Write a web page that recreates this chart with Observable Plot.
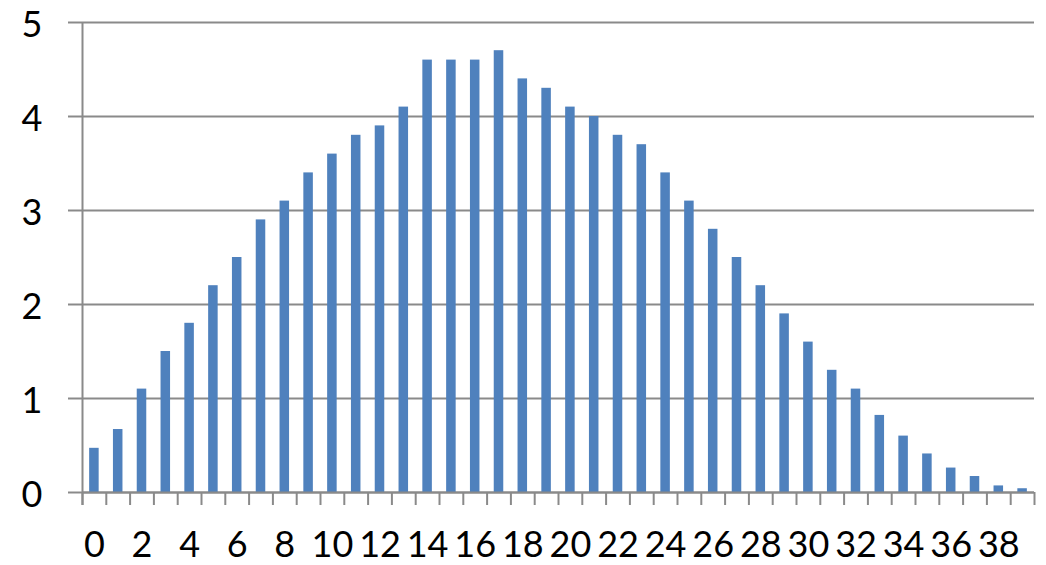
<!DOCTYPE html>
<html>
<head>
<meta charset="utf-8">
<script src="https://cdn.jsdelivr.net/npm/d3@7"></script>
<script src="https://cdn.jsdelivr.net/npm/@observablehq/plot@0.6"></script>
<style>
  html, body { margin: 0; padding: 0; background: #fff; }
  #chart { width: 1046px; height: 565px; }
</style>
</head>
<body>
<div id="chart"></div>
<script>
const categories = d3.range(0, 40);
const values = [
  0.47, 0.67, 1.1, 1.5, 1.8, 2.2, 2.5, 2.9, 3.1, 3.4,
  3.6, 3.8, 3.9, 4.1, 4.6, 4.6, 4.6, 4.7, 4.4, 4.3,
  4.1, 4.0, 3.8, 3.7, 3.4, 3.1, 2.8, 2.5, 2.2, 1.9,
  1.6, 1.3, 1.1, 0.82, 0.6, 0.41, 0.26, 0.17, 0.07, 0.04
];
const xTickLabels = d3.range(0, 40, 2);
const yTicks = [0, 1, 2, 3, 4, 5];
const boundaries = d3.range(0, 41).map(k => k - 0.5);

const data = categories.map((c, i) => ({cat: c, value: values[i]}));
const gray = "#8a8a8a";
const halfBar = 0.2;

const chart = Plot.plot({
  width: 1046,
  height: 565,
  marginLeft: 82,
  marginRight: 12,
  marginTop: 22,
  marginBottom: 73,
  style: {fontFamily: "Lato, 'Open Sans', sans-serif", fontSize: "36px", color: "#000", background: "#fff"},
  x: {type: "linear", domain: [-0.5, 39.5]},
  y: {domain: [0, 5]},
  marks: [
    Plot.gridY(yTicks, {stroke: gray, strokeWidth: 2, strokeOpacity: 1}),
    Plot.axisY(yTicks, {tickSize: 14, tickPadding: 26, stroke: gray, strokeWidth: 2, label: null, tickFormat: null, text: null}),
    Plot.axisY(yTicks, {tickSize: 0, tickPadding: 40, label: null, tickFormat: d => String(d), fill: "#000", dy: 3}),
    Plot.rectY(data, {x1: d => d.cat - halfBar, x2: d => d.cat + halfBar, y1: 0, y2: "value", fill: "#4F81BD"}),
    Plot.ruleY([0], {stroke: gray, strokeWidth: 2}),
    Plot.ruleX([boundaries[0]], {stroke: gray, strokeWidth: 2, insetBottom: -13}),
    Plot.axisX(boundaries, {tickSize: 13, stroke: gray, strokeWidth: 2, tickFormat: () => "", label: null}),
    Plot.axisX(xTickLabels, {tickSize: 0, tickPadding: 39, tickFormat: d => String(d), label: null, fill: "#000"})
  ]
});
document.getElementById("chart").appendChild(chart);
</script>
</body>
</html>
